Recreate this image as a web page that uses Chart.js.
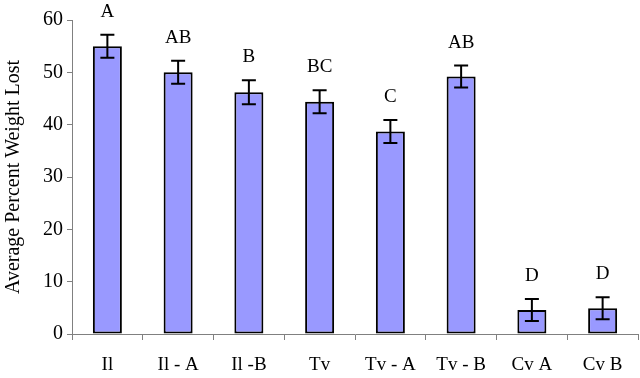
<!DOCTYPE html>
<html lang="en">
<head>
    <meta charset="UTF-8">
    <title>Average Percent Weight Lost</title>
    <script src="https://cdn.jsdelivr.net/npm/chart.js"></script>
    <style>
        html, body { margin: 0; padding: 0; background: #fff; }
        #wrap { width: 640px; height: 378px; }
    </style>
</head>
<body>
    <div id="wrap"><canvas id="grafico"></canvas></div>

    <script>
        // dados
        const categorias = ["Il", "Il - A", "Il -B", "Tv", "Tv - A", "Tv - B", "Cv A", "Cv B"];
        const medias = [55.0, 50.0, 46.2, 44.4, 38.7, 49.2, 4.6, 4.9];
        const erros = [2.2, 2.2, 2.3, 2.2, 2.2, 2.1, 2.1, 2.1];
        const letras = ["A", "AB", "B", "BC", "C", "AB", "D", "D"];
        const ticksY = [0, 10, 20, 30, 40, 50, 60];
        const tituloY = "Average Percent Weight Lost";

        const fonte = "'Liberation Serif', 'Times New Roman', serif";

        // barras de erro + letras de significância + título do eixo
        const errosPlugin = {
            id: 'erros',
            afterDatasetsDraw(chart) {
                const ctx = chart.ctx;
                const meta = chart.getDatasetMeta(0);
                const y = chart.scales.y;
                const area = chart.chartArea;
                ctx.save();
                ctx.strokeStyle = '#000';
                ctx.lineWidth = 2;
                meta.data.forEach((bar, i) => {
                    const x = bar.x;
                    const yTop = y.getPixelForValue(medias[i] + erros[i]);
                    const yBot = y.getPixelForValue(medias[i] - erros[i]);
                    ctx.beginPath();
                    ctx.moveTo(x, yTop); ctx.lineTo(x, yBot);
                    ctx.moveTo(x - 7, yTop); ctx.lineTo(x + 7, yTop);
                    ctx.moveTo(x - 7, yBot); ctx.lineTo(x + 7, yBot);
                    ctx.stroke();
                    ctx.fillStyle = '#000';
                    ctx.font = "19px " + fonte;
                    ctx.textAlign = 'center';
                    ctx.textBaseline = 'middle';
                    ctx.fillText(letras[i], x, yTop - 23);
                });
                // título do eixo Y
                ctx.translate(14, (area.top + area.bottom) / 2);
                ctx.rotate(-Math.PI / 2);
                ctx.font = "20px " + fonte;
                ctx.fillText(tituloY, 0, 0);
                ctx.restore();
            }
        };

        new Chart(document.getElementById("grafico"), {
            type: 'bar',
            data: {
                labels: categorias,
                datasets: [{
                    data: medias,
                    backgroundColor: '#9999FF',
                    borderColor: '#000',
                    borderWidth: 2,
                    borderSkipped: false,
                    categoryPercentage: 1,
                    barPercentage: 0.41
                }]
            },
            options: {
                responsive: true,
                maintainAspectRatio: false,
                animation: false,
                events: [],
                layout: { padding: { top: 20, right: 2, left: 0, bottom: 0 } },
                plugins: { legend: { display: false }, tooltip: { enabled: false } },
                scales: {
                    x: {
                        offset: true,
                        grid: { offset: true, drawOnChartArea: false, tickLength: 6, color: '#808080', lineWidth: 1 },
                        border: { color: '#808080', width: 1 },
                        ticks: { color: '#000', font: { family: fonte, size: 19 }, padding: 14, maxRotation: 0, autoSkip: false },
                        afterFit: (s) => { s.height = 44; }
                    },
                    y: {
                        min: 0,
                        max: 60,
                        afterBuildTicks: (s) => { s.ticks = ticksY.map(v => ({ value: v })); },
                        grid: { drawOnChartArea: false, tickLength: 5, color: '#808080', lineWidth: 1 },
                        border: { color: '#808080', width: 1 },
                        ticks: { color: '#000', font: { family: fonte, size: 20 }, padding: 4 },
                        afterFit: (s) => { s.width = 72; }
                    }
                }
            },
            plugins: [errosPlugin]
        });
    </script>
</body>
</html>
